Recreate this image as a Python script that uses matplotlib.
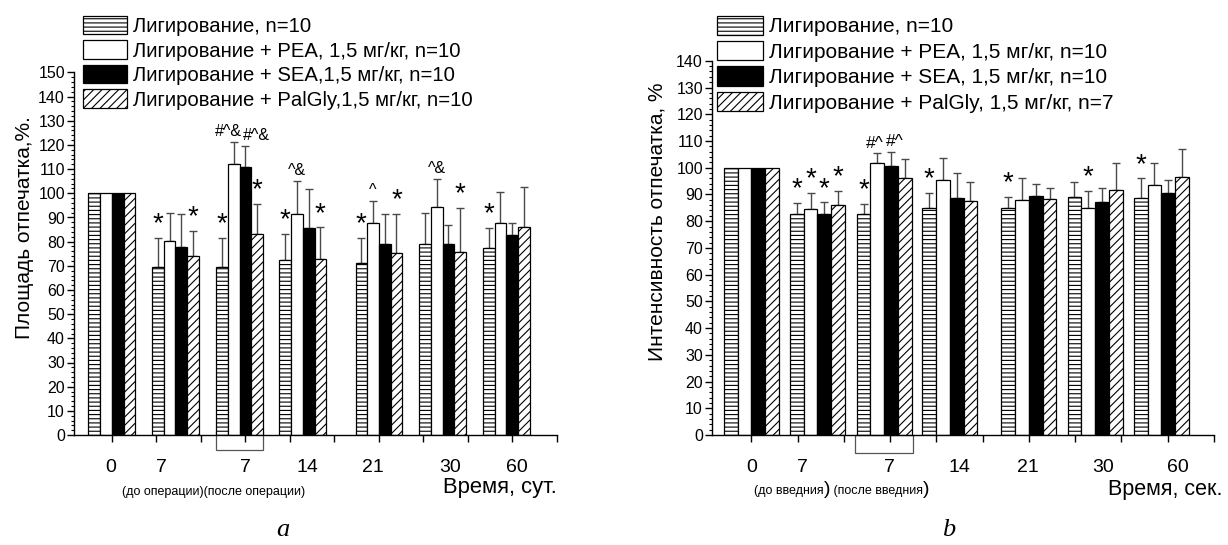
import matplotlib
matplotlib.use('Agg')
import matplotlib.pyplot as plt
import numpy as np
from matplotlib.patches import Rectangle
from matplotlib.ticker import MultipleLocator
from matplotlib.transforms import blended_transform_factory

plt.rcParams['font.family'] = ['Liberation Sans', 'DejaVu Sans']
plt.rcParams['hatch.linewidth'] = 0.8

# ---------------- data ----------------
time_labels = ['0', '7', '7', '14', '21', '30', '60']

series_a = ['Лигирование, n=10',
            'Лигирование + PEA, 1,5 мг/кг, n=10',
            'Лигирование + SEA,1,5 мг/кг, n=10',
            'Лигирование + PalGly,1,5 мг/кг, n=10']
series_b = ['Лигирование, n=10',
            'Лигирование + PEA, 1,5 мг/кг, n=10',
            'Лигирование + SEA, 1,5 мг/кг, n=10',
            'Лигирование + PalGly, 1,5 мг/кг, n=7']

# chart a: area of imprint, %
a_lig = [100, 69.4, 69.4, 72.4, 71.0, 78.9, 77.5]
a_pea = [100, 80.4, 112.0, 91.3, 87.8, 94.2, 87.8]
a_sea = [100, 77.9, 111.0, 85.5, 79.0, 78.9, 82.7]
a_pal = [100, 73.9, 83.0, 72.8, 75.4, 75.8, 86.2]
a_lig_err = [0, 12.0, 12.0, 10.8, 10.4, 13.1, 8.0]
a_pea_err = [0, 11.6, 9.4, 13.8, 9.1, 11.9, 12.9]
a_sea_err = [0, 13.5, 8.7, 16.1, 12.4, 7.9, 5.1]
a_pal_err = [0, 10.5, 12.6, 13.1, 16.0, 18.3, 16.3]

# chart b: intensity of imprint, %
b_lig = [100, 82.7, 82.6, 84.8, 85.0, 88.9, 88.5]
b_pea = [100, 84.6, 101.6, 95.3, 87.8, 84.9, 93.5]
b_sea = [100, 82.5, 100.8, 88.7, 89.4, 87.2, 90.6]
b_pal = [100, 86.0, 96.0, 87.4, 88.3, 91.5, 96.4]
b_lig_err = [0, 4.0, 3.8, 5.6, 4.2, 5.6, 7.5]
b_pea_err = [0, 5.8, 3.8, 8.4, 8.2, 6.4, 8.4]
b_sea_err = [0, 4.5, 5.0, 9.4, 4.5, 5.2, 4.8]
b_pal_err = [0, 5.4, 7.1, 7.1, 4.2, 10.4, 10.6]

# significance marks: (time index, series index, text)
a_marks = [(1, 0, '*'), (1, 3, '*'), (2, 0, '*'), (2, 1, '#^&'), (2, 2, '#^&'),
           (2, 3, '*'), (3, 0, '*'), (3, 1, '^&'), (3, 3, '*'), (4, 0, '*'),
           (4, 1, '^'), (4, 3, '*'), (5, 1, '^&'), (5, 3, '*'), (6, 0, '*')]
b_marks = [(1, 0, '*'), (1, 1, '*'), (1, 2, '*'), (1, 3, '*'), (2, 0, '*'),
           (2, 1, '#^'), (2, 2, '#^'), (3, 0, '*'), (4, 0, '*'), (5, 1, '*'),
           (6, 0, '*')]

# ---------------- layout ----------------
W, H = 1228, 545
fig = plt.figure(figsize=(W / 100, H / 100), dpi=100)

def fx(px):
    return px / W

def fy(py):
    return 1 - py / H

PT = 0.72  # points per pixel at dpi 100

group_pos = [0, 1.43, 2.87, 4.29, 6.0, 7.43, 8.86]
a_label_pos = [-0.02, 1.12, 2.99, 4.40, 5.87, 7.60, 9.10]
b_label_pos = [0.0, 1.10, 2.99, 4.49, 5.97, 7.61, 9.21]
# horizontal nudges (pixels) for crowded annotations
a_mark_dx = {(2, 1): -5.5, (2, 2): 11}
b_mark_dx = {(2, 1): -2, (2, 2): 4}

styles = [dict(facecolor='white', hatch='----', edgecolor='black'),
          dict(facecolor='white', edgecolor='black'),
          dict(facecolor='black', edgecolor='black'),
          dict(facecolor='white', hatch='////', edgecolor='black')]


def draw(ax, vals, errs, names, ymax, width, label_pos, marks, mark_dx,
         mark_fs, legend_anchor, legend_kw):
    offsets = (np.arange(4) - 1.5) * width
    handles = []
    xs_all = []
    for i in range(4):
        xs = np.array(group_pos) + offsets[i]
        xs_all.append(xs)
        b = ax.bar(xs, vals[i], width, label=names[i], linewidth=0.9,
                   zorder=2, **styles[i])
        handles.append(b)
        e = np.array(errs[i])
        m = e > 0
        ax.errorbar(xs[m], np.array(vals[i])[m],
                    yerr=[np.zeros(m.sum()), e[m]], fmt='none',
                    ecolor='#4a4a4a', elinewidth=1.0, capsize=2.6,
                    capthick=1.0, zorder=1)
    for (g, s, t) in marks:
        top = vals[s][g] + errs[s][g]
        dx = mark_dx.get((g, s), 0) * PT
        if t == '*':
            ax.annotate(t, xy=(xs_all[s][g], top), xytext=(dx, 0.5),
                        textcoords='offset points', ha='center', va='bottom',
                        fontsize=20)
        else:
            ax.annotate(t, xy=(xs_all[s][g], top), xytext=(dx, 2),
                        textcoords='offset points', ha='center', va='bottom',
                        fontsize=mark_fs)
    ax.set_ylim(0, ymax)
    ax.set_xlim(-0.85, 10.0)
    ax.set_yticks(range(0, ymax + 1, 10))
    ax.yaxis.set_minor_locator(MultipleLocator(2))
    ax.set_xticks(range(0, 11))
    ax.set_xticklabels([])
    ax.tick_params(axis='y', which='major', direction='out', length=5,
                   width=1, labelsize=11.5, pad=1.5)
    ax.tick_params(axis='y', which='minor', direction='out', length=2.5,
                   width=0.8)
    ax.tick_params(axis='x', which='major', direction='out', length=5,
                   width=1)
    for sp in ['top', 'right']:
        ax.spines[sp].set_visible(False)
    for sp in ['left', 'bottom']:
        ax.spines[sp].set_linewidth(1.0)
    for p, t in zip(label_pos, time_labels):
        ax.annotate(t, xy=(p, 0), xycoords=('data', 'axes fraction'),
                    xytext=(0, -32 * PT), textcoords='offset points',
                    ha='center', va='center', fontsize=14)
    ax.legend(handles=handles, loc='upper left', bbox_to_anchor=legend_anchor,
              frameon=False, borderpad=0, borderaxespad=0, **legend_kw)
    return xs_all


# ---- chart a ----
ax1 = fig.add_axes([fx(74), fy(435), fx(557 - 74), (435 - 72.5) / H])
xa = draw(ax1, [a_lig, a_pea, a_sea, a_pal],
          [a_lig_err, a_pea_err, a_sea_err, a_pal_err], series_a, 150, 0.263,
          a_label_pos, a_marks, a_mark_dx, 11.5, (0.018, 1.156),
          dict(fontsize=14.6, handlelength=2.17, handleheight=1.03,
               handletextpad=0.3, labelspacing=0.21))
tr1 = blended_transform_factory(ax1.transData, ax1.transAxes)
ax1.add_patch(Rectangle((group_pos[2] - 2 * 0.263, -15 / 362.5), 4 * 0.263,
                        19 / 362.5, transform=tr1, fill=False,
                        edgecolor='#555555', linewidth=0.9, clip_on=False))
fig.text(fx(25), fy(228), 'Площадь отпечатка,%.', rotation=90, ha='center',
         va='center', fontsize=15)
fig.text(fx(443), fy(487), 'Время, сут.', ha='left', va='center',
         fontsize=15.8)
fig.text(fx(122), fy(492), '(до операции)(после операции)', ha='left',
         va='center', fontsize=9)
fig.text(fx(283), fy(530), 'a', ha='center', va='center', fontsize=19,
         family='Liberation Serif', style='italic')

# ---- chart b ----
ax2 = fig.add_axes([fx(712), fy(435), fx(1214 - 712), (435 - 60.8) / H])
xb = draw(ax2, [b_lig, b_pea, b_sea, b_pal],
          [b_lig_err, b_pea_err, b_sea_err, b_pal_err], series_b, 140, 0.297,
          b_label_pos, b_marks, b_mark_dx, 12.5, (0.01, 1.121),
          dict(fontsize=15, handlelength=2.2, handleheight=1.06,
               handletextpad=0.3, labelspacing=0.22))
tr2 = blended_transform_factory(ax2.transData, ax2.transAxes)
ax2.add_patch(Rectangle((group_pos[2] - 2 * 0.297 - 0.03, -18 / 374.2),
                        4 * 0.297 + 0.06, 18 / 374.2, transform=tr2,
                        fill=False, edgecolor='#555555', linewidth=0.9,
                        clip_on=False))
fig.text(fx(657), fy(222), 'Интенсивность отпечатка, %', rotation=90,
         ha='center', va='center', fontsize=15)
fig.text(fx(1108), fy(490), 'Время, сек.', ha='left', va='center',
         fontsize=15.5)
# sub-label with large closing parentheses
t1 = fig.text(fx(754), fy(494), '(до введния', ha='left', va='baseline',
              fontsize=9)
t2 = fig.text(0, 0, ')', fontsize=14, va='baseline')
t3 = fig.text(0, 0, ' (после введния', fontsize=9, va='baseline')
t4 = fig.text(0, 0, ')', fontsize=14, va='baseline')
fig.canvas.draw()
r = fig.canvas.get_renderer()
prev = t1
for t in [t2, t3, t4]:
    bb = prev.get_window_extent(r)
    t.set_position((bb.x1 / W, fy(494)))
    prev = t
fig.text(fx(949), fy(530), 'b', ha='center', va='center', fontsize=19,
         family='Liberation Serif', style='italic')

fig.savefig('out.png', dpi=100)
